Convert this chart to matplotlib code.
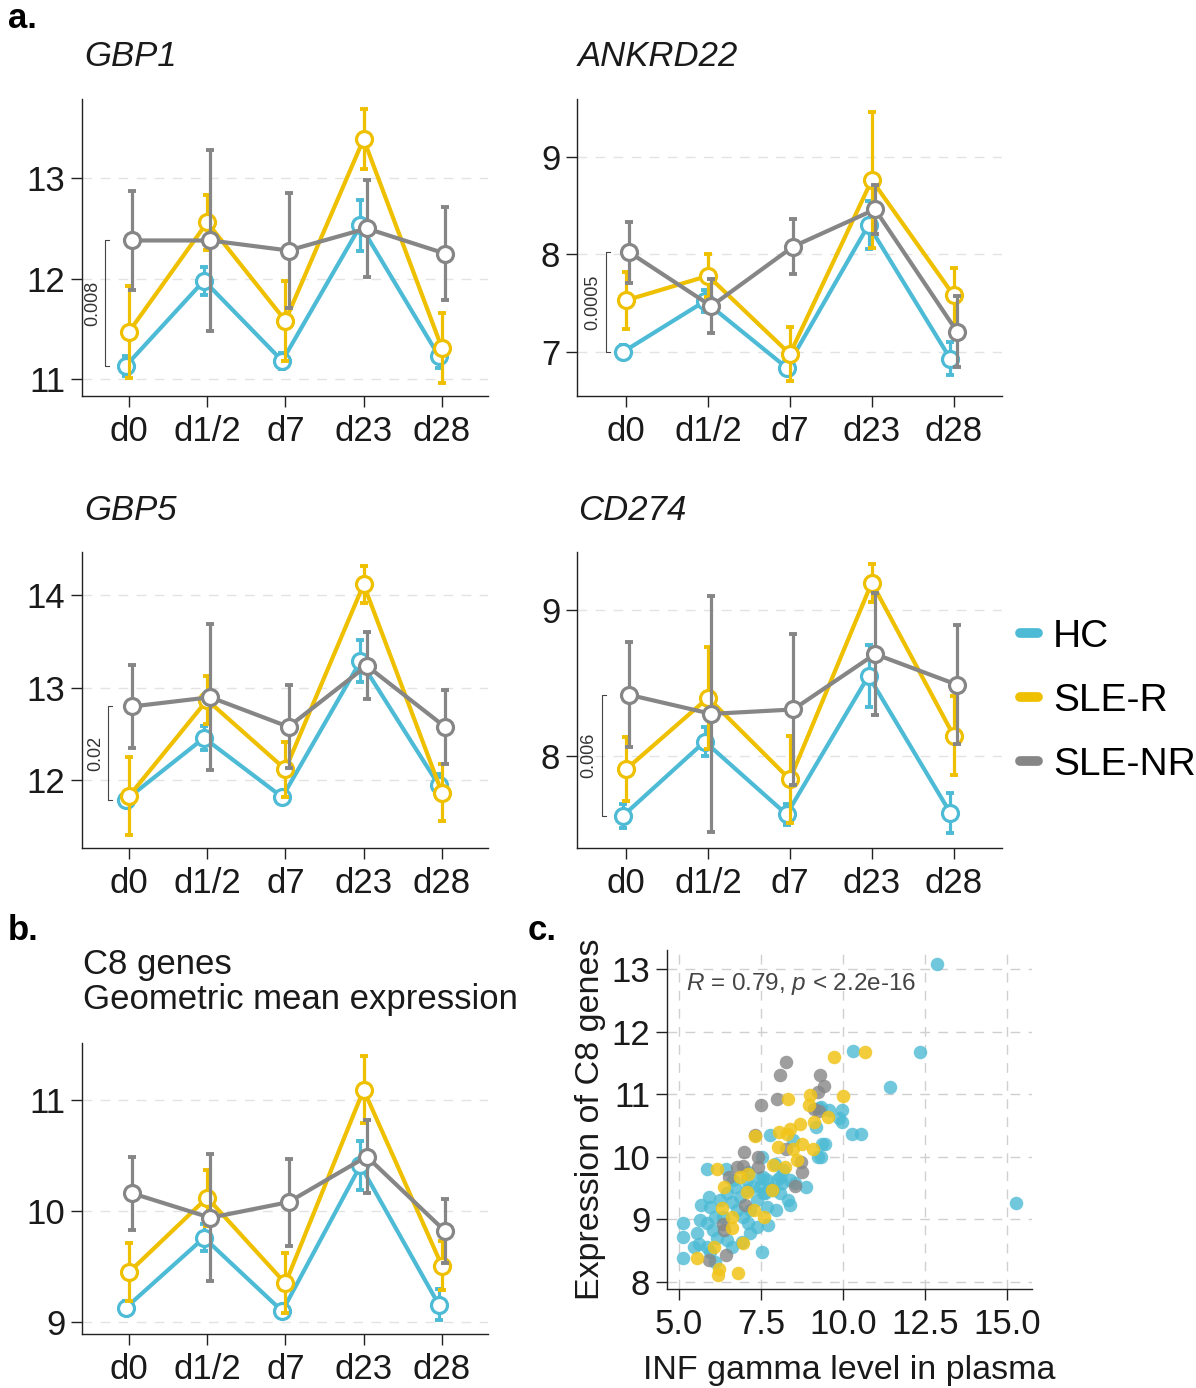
import numpy as np
import matplotlib
matplotlib.use('Agg')
from matplotlib import pyplot as plt
from matplotlib.lines import Line2D

plt.rcParams['font.family'] = ['Liberation Sans', 'DejaVu Sans']
plt.rcParams['mathtext.fontset'] = 'custom'
plt.rcParams['mathtext.rm'] = 'Liberation Sans'
plt.rcParams['mathtext.it'] = 'Liberation Sans:italic'

days = ['d0', 'd1/2', 'd7', 'd23', 'd28']
groups = ['HC', 'SLE-R', 'SLE-NR']
colors = ['#4DBBD5', '#EFC000', '#868686']

# mean and error per gene, per group (HC, SLE-R, SLE-NR)
gbp1_mean = [[11.13, 11.98, 11.18, 12.53, 11.23],
             [11.47, 12.56, 11.58, 13.39, 11.31],
             [12.38, 12.38, 12.28, 12.50, 12.25]]
gbp1_err = [[0.10, 0.14, 0.08, 0.25, 0.12],
            [0.46, 0.27, 0.40, 0.30, 0.35],
            [0.49, 0.90, 0.57, 0.48, 0.46]]

ankrd22_mean = [[7.00, 7.52, 6.84, 8.30, 6.93],
                [7.53, 7.78, 6.98, 8.76, 7.58],
                [8.02, 7.47, 8.08, 8.46, 7.21]]
ankrd22_err = [[0.07, 0.11, 0.08, 0.25, 0.17],
               [0.29, 0.22, 0.28, 0.70, 0.28],
               [0.31, 0.28, 0.28, 0.25, 0.36]]

gbp5_mean = [[11.79, 12.46, 11.82, 13.29, 11.95],
             [11.83, 12.87, 12.12, 14.12, 11.87],
             [12.80, 12.90, 12.58, 13.24, 12.58]]
gbp5_err = [[0.07, 0.13, 0.05, 0.23, 0.12],
            [0.42, 0.26, 0.30, 0.20, 0.31],
            [0.45, 0.79, 0.45, 0.36, 0.40]]

cd274_mean = [[7.59, 8.10, 7.60, 8.55, 7.61],
              [7.91, 8.40, 7.84, 9.19, 8.14],
              [8.42, 8.29, 8.32, 8.70, 8.49]]
cd274_err = [[0.08, 0.10, 0.07, 0.21, 0.14],
             [0.22, 0.35, 0.30, 0.13, 0.27],
             [0.36, 0.81, 0.52, 0.42, 0.41]]

c8_mean = [[9.13, 9.76, 9.10, 10.41, 9.16],
           [9.45, 10.12, 9.35, 11.09, 9.51],
           [10.16, 9.94, 10.08, 10.49, 9.82]]
c8_err = [[0.06, 0.12, 0.05, 0.22, 0.14],
          [0.26, 0.25, 0.27, 0.30, 0.22],
          [0.33, 0.57, 0.39, 0.33, 0.29]]

pvals = ['0.008', '0.0005', '0.02', '0.006']

# panel c: INF gamma vs C8 expression
hc_x = [12.85, 15.26, 12.34, 10.31, 11.41, 10.26, 10.54, 9.96, 9.96, 9.31,
        9.57, 9.43, 9.31, 9.17, 9.27, 9.88, 7.77, 8.48, 7.53, 5.84,
        6.43, 5.11, 5.11, 5.11, 5.45, 5.60, 5.90, 7.53, 7.96, 7.72,
        8.85, 8.38, 8.17, 8.54, 9.35, 9.24, 7.92, 7.11, 5.94, 5.63,
        5.84, 6.09, 6.24, 6.45, 6.60, 6.86, 7.06, 6.96, 7.11, 7.36,
        7.46, 7.62, 7.16, 6.91, 6.45, 6.60, 7.87, 6.14, 5.84, 5.94,
        6.09, 6.70, 6.35, 6.75, 7.16, 7.36, 6.04, 5.68, 5.53, 6.65,
        7.06, 7.46, 7.67, 7.97, 7.26, 7.77, 7.56, 8.08, 8.13, 8.38,
        7.56, 8.08, 8.33, 7.67]
hc_y = [13.08, 9.25, 11.67, 11.70, 11.11, 10.36, 10.36, 10.75, 10.56, 10.80,
        10.75, 10.21, 10.00, 10.48, 10.78, 10.62, 10.34, 10.27, 10.00, 9.80,
        9.81, 8.93, 8.71, 8.37, 8.56, 8.60, 9.36, 8.48, 9.15, 8.90,
        9.52, 9.23, 9.79, 9.57, 10.20, 10.00, 9.88, 9.76, 9.20, 8.99,
        8.94, 9.04, 9.31, 9.42, 9.28, 9.36, 9.47, 9.04, 8.94, 9.31,
        9.52, 9.42, 8.78, 8.64, 8.67, 8.56, 9.47, 8.70, 8.56, 8.48,
        8.32, 9.52, 9.04, 9.15, 9.15, 8.88, 8.83, 9.23, 8.78, 9.63,
        9.63, 9.65, 9.63, 9.63, 9.52, 9.49, 9.68, 9.68, 9.57, 9.63,
        9.41, 9.41, 9.31, 9.20]

r_x = [9.73, 10.67, 8.33, 8.99, 8.96, 9.98, 9.52, 9.12, 8.67, 8.38,
       8.04, 8.01, 8.48, 8.75, 9.07, 8.59, 7.85, 8.22, 6.14, 7.11,
       6.85, 6.37, 7.06, 7.83, 6.32, 6.61, 7.27, 7.59, 6.61, 6.06,
       5.53, 6.95, 6.21, 6.18, 6.80, 7.32, 8.28]
r_y = [11.60, 11.67, 10.93, 10.99, 10.83, 10.97, 10.64, 10.56, 10.53, 10.45,
       10.40, 10.15, 10.12, 10.21, 10.12, 9.95, 9.87, 9.84, 9.81, 9.73,
       9.68, 9.52, 9.44, 9.47, 9.17, 9.04, 9.15, 9.04, 8.85, 8.56,
       8.37, 8.61, 8.20, 8.11, 8.14, 10.33, 10.37]

nr_x = [8.25, 8.08, 9.28, 9.41, 9.22, 7.98, 7.50, 7.32, 9.25, 9.10,
        6.99, 7.41, 7.41, 6.77, 6.95, 6.53, 8.25, 8.70, 8.75, 8.54,
        7.01, 6.37, 6.43, 5.90, 6.33]
nr_y = [11.52, 11.31, 11.31, 11.13, 11.04, 10.92, 10.83, 10.35, 10.73, 10.76,
        10.08, 10.00, 9.84, 9.84, 9.85, 9.68, 10.12, 9.92, 9.76, 9.53,
        9.22, 8.83, 8.43, 8.35, 8.92]

W, H = 1196, 1388
TICK_FS = 25
INK = '#1a1a1a'


def px_axes(fig, x0, y0, x1, y1):
  return fig.add_axes([x0 / W, 1 - y1 / H, (x1 - x0) / W, (y1 - y0) / H])


def style_axes(ax):
  for s in ['top', 'right']:
    ax.spines[s].set_visible(False)
  for s in ['left', 'bottom']:
    ax.spines[s].set_color('#222222')
    ax.spines[s].set_linewidth(1.0)
  ax.tick_params(length=8, width=1.0, color='#222222', labelsize=TICK_FS,
                 labelcolor=INK)
  ax.tick_params(axis='x', pad=6)
  ax.tick_params(axis='y', pad=4)


def plot_time(ax, means, errs, ylim, yticks, pval=None, brx=0.72):
  x = np.arange(1, len(days) + 1)
  dodge = [-0.04, 0.0, 0.04]
  for yt in yticks:
    ax.axhline(yt, color='#e3e3e3', lw=1.0, ls=(0, (7, 6)), zorder=0)
  for i, g in enumerate(groups):
    xx = x + dodge[i]
    ax.errorbar(xx, means[i], yerr=errs[i], fmt='none', ecolor=colors[i],
                elinewidth=2.3, capsize=2.8, capthick=2.8, zorder=2 + i)
    ax.plot(xx, means[i], color=colors[i], lw=3.0, marker='o', ms=11.5,
            mfc='white', mec=colors[i], mew=2.3, zorder=2.5 + i)
  if pval is not None:
    top = means[2][0]
    bot = means[0][0]
    ax.plot([brx + 0.05, brx, brx, brx + 0.05], [top, top, bot, bot],
            color='#444444', lw=0.8, zorder=1)
    ax.text(brx - 0.16, (top + bot) / 2, pval, rotation=90, ha='center',
            va='center', fontsize=13, color='#333333')
  ax.set_xlim(0.4, 5.59)
  ax.set_ylim(*ylim)
  ax.set_xticks(x)
  ax.set_xticklabels(days)
  ax.set_yticks(yticks)
  style_axes(ax)


def plot_scatter(ax):
  for gx in [5, 7.5, 10, 12.5, 15]:
    ax.axvline(gx, color='#d0d0d0', lw=1.0, ls=(0, (7, 6)), zorder=0)
  for gy in range(8, 14):
    ax.axhline(gy, color='#d0d0d0', lw=1.0, ls=(0, (7, 6)), zorder=0)
  ax.scatter(hc_x, hc_y, s=95, color=colors[0], alpha=0.8, lw=0, zorder=2)
  ax.scatter(nr_x, nr_y, s=95, color=colors[2], alpha=0.8, lw=0, zorder=3)
  ax.scatter(r_x, r_y, s=95, color='#F0C419', alpha=0.85, lw=0, zorder=4)
  ax.set_xlim(4.63, 15.75)
  ax.set_ylim(7.88, 13.31)
  ax.set_xticks([5, 7.5, 10, 12.5, 15])
  ax.set_xticklabels(['5.0', '7.5', '10.0', '12.5', '15.0'])
  ax.set_yticks(range(8, 14))
  style_axes(ax)
  ax.set_xlabel('INF gamma level in plasma', fontsize=24.5, color=INK,
                labelpad=10)
  ax.set_ylabel('Expression of C8 genes', fontsize=24.5, color=INK,
                labelpad=4)
  ax.text(0.052, 0.9, r'$R$ = 0.79, $p$ < 2.2e-16', transform=ax.transAxes,
          fontsize=17.5, color='#444444', va='center')


def main():
  fig = plt.figure(figsize=(W / 100, H / 100), dpi=100)

  ax1 = px_axes(fig, 82, 99, 488, 396)
  plot_time(ax1, gbp1_mean, gbp1_err, (10.83, 13.79), [11, 12, 13], pvals[0], 0.70)
  ax2 = px_axes(fig, 577, 99, 1002, 396)
  plot_time(ax2, ankrd22_mean, ankrd22_err, (6.55, 9.59), [7, 8, 9], pvals[1], 0.75)
  ax3 = px_axes(fig, 82, 552, 488, 848)
  plot_time(ax3, gbp5_mean, gbp5_err, (11.27, 14.47), [12, 13, 14], pvals[2], 0.73)
  ax4 = px_axes(fig, 577, 552, 1002, 848)
  plot_time(ax4, cd274_mean, cd274_err, (7.37, 9.40), [8, 9], pvals[3], 0.70)
  ax5 = px_axes(fig, 82, 1043, 488, 1334)
  plot_time(ax5, c8_mean, c8_err, (8.895, 11.51), [9, 10, 11])
  ax6 = px_axes(fig, 667, 950, 1032, 1289)
  plot_scatter(ax6)

  # gene titles
  for name, x, y in [('GBP1', 84, 56), ('ANKRD22', 578, 56),
                     ('GBP5', 84, 510), ('CD274', 578, 510)]:
    fig.text(x / W, 1 - y / H, name, fontsize=TICK_FS, style='italic',
             color=INK, va='center', ha='left')
  fig.text(83 / W, 1 - 982 / H, 'C8 genes\nGeometric mean expression',
           fontsize=TICK_FS, color=INK, va='center', ha='left',
           linespacing=1.08)

  # panel letters
  for lab, x, y in [('a.', 8, 18), ('b.', 8, 930), ('c.', 528, 930)]:
    fig.text(x / W, 1 - y / H, lab, fontsize=25, weight='bold', color='black',
             va='center', ha='left')

  handles = [Line2D([], [], color=c, lw=7, solid_capstyle='round')
             for c in colors]
  fig.legend(handles, groups, loc='center left',
             bbox_to_anchor=(1020 / W, 1 - 701 / H), frameon=False,
             fontsize=28, handlelength=0.45, handletextpad=0.4,
             labelspacing=0.72, borderpad=0, borderaxespad=0)

  fig.savefig('out.png', dpi=100)


if __name__ == '__main__':
  main()
